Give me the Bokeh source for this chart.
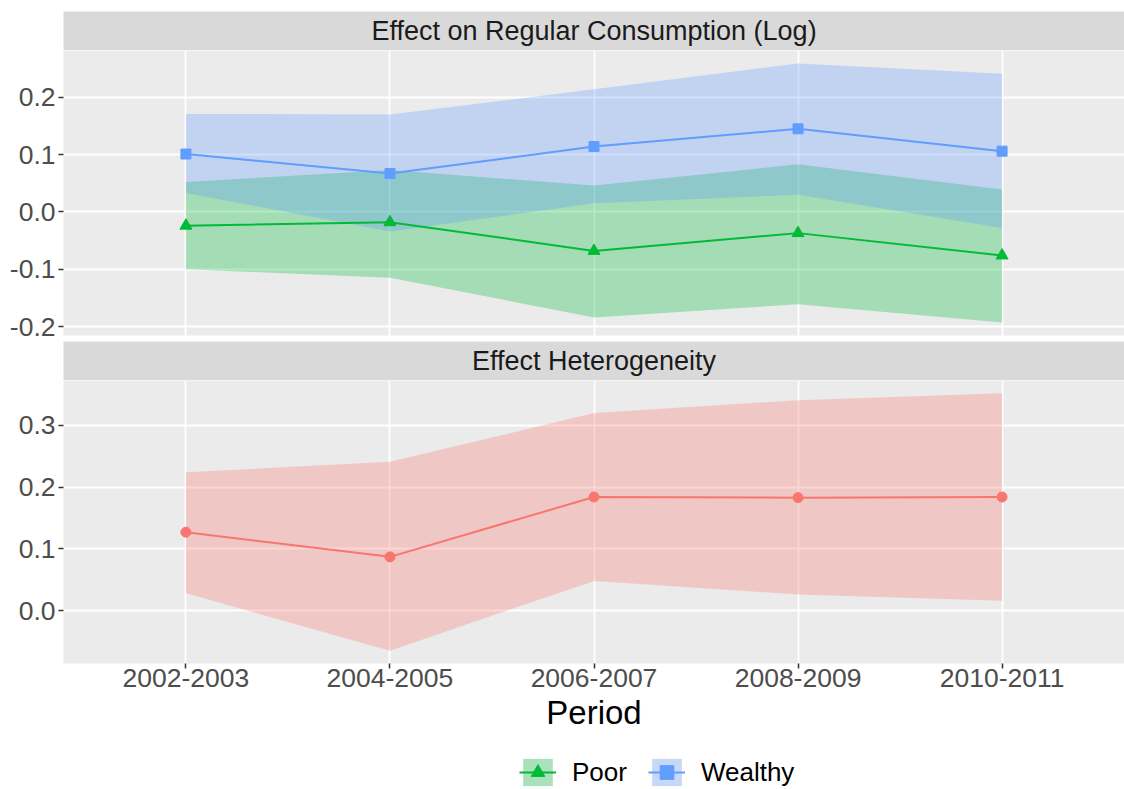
from bokeh.plotting import figure
from bokeh.models import (Range1d, SingleIntervalTicker, FixedTicker,
                          NumeralTickFormatter, Legend, LegendItem)
from bokeh.layouts import column
from bokeh.embed import file_html
from bokeh.resources import INLINE
from bokeh.core.properties import value

# ---- data -------------------------------------------------------------
periods = ["2002-2003", "2004-2005", "2006-2007", "2008-2009", "2010-2011"]

poor_est = [-0.024, -0.018, -0.068, -0.037, -0.076]
poor_lo = [-0.100, -0.115, -0.184, -0.161, -0.193]
poor_hi = [0.052, 0.073, 0.046, 0.083, 0.039]

wealthy_est = [0.101, 0.067, 0.114, 0.145, 0.106]
wealthy_lo = [0.033, -0.034, 0.015, 0.030, -0.028]
wealthy_hi = [0.171, 0.170, 0.214, 0.259, 0.241]

het_est = [0.127, 0.087, 0.184, 0.183, 0.184]
het_lo = [0.028, -0.065, 0.048, 0.026, 0.016]
het_hi = [0.224, 0.241, 0.320, 0.341, 0.352]

panel_titles = ["Effect on Regular Consumption (Log)", "Effect Heterogeneity"]
group_names = ["Poor", "Wealthy"]

# ---- style ------------------------------------------------------------
FONT = "Liberation Sans"
PANEL_BG = "#EBEBEB"
STRIP_BG = "#D9D9D9"
KEY_BG = "#F2F2F2"
GREEN = "#00BA38"
BLUE = "#619CFF"
RED = "#F8766D"
RIBBON_ALPHA = 0.3
W = 1124
LEFT = 63


def blend(fg, bg, alpha):
    f = [int(fg[i:i + 2], 16) for i in (1, 3, 5)]
    b = [int(bg[i:i + 2], 16) for i in (1, 3, 5)]
    return "#" + "".join("%02X" % round(alpha * a + (1 - alpha) * c) for a, c in zip(f, b))


x_idx = list(range(1, len(periods) + 1))
# discrete axis expansion of 0.6 on both sides
x_range = Range1d(0.4, len(periods) + 0.6)


def padded(vals, frac=0.05):
    lo, hi = min(vals), max(vals)
    pad = (hi - lo) * frac
    return Range1d(lo - pad, hi + pad)


def strip(text, top):
    s = figure(width=W, height=39 + top, x_range=x_range, y_range=Range1d(0, 1),
               x_axis_type=None, y_axis_type=None, toolbar_location=None,
               output_backend="svg", min_border_left=LEFT, min_border_right=0,
               min_border_top=top, min_border_bottom=0,
               background_fill_color=STRIP_BG, border_fill_color="white",
               outline_line_color=None)
    s.text(x=[(x_range.start + x_range.end) / 2], y=[0.5], text=[text],
           text_align="center", text_baseline="middle",
           text_font=value(FONT), text_font_size="27px", text_color="#1A1A1A")
    return s


def panel(height, yr, bottom, show_x):
    p = figure(width=W, height=height, x_range=x_range, y_range=yr,
               toolbar_location=None, output_backend="svg",
               min_border_left=LEFT, min_border_right=0, min_border_top=0,
               min_border_bottom=bottom, background_fill_color=PANEL_BG,
               border_fill_color="white", outline_line_color=None)
    p.yaxis.ticker = SingleIntervalTicker(interval=0.1, num_minor_ticks=0)
    p.yaxis.formatter = NumeralTickFormatter(format="0.0")
    p.xaxis.ticker = FixedTicker(ticks=x_idx)
    p.xgrid.ticker = FixedTicker(ticks=x_idx)
    p.ygrid.ticker = SingleIntervalTicker(interval=0.1, num_minor_ticks=0)
    p.xaxis.major_label_overrides = {i: lab for i, lab in zip(x_idx, periods)}
    for ax in (p.xaxis[0], p.yaxis[0]):
        ax.axis_line_color = None
        ax.major_tick_out = 5
        ax.major_tick_in = 0
        ax.minor_tick_line_color = None
        ax.major_tick_line_color = "#333333"
        ax.major_tick_line_width = 1.5
        ax.major_label_text_font = FONT
        ax.major_label_text_font_size = "26.5px"
        ax.major_label_text_color = "#4D4D4D"
    p.yaxis.major_label_standoff = 3
    p.xaxis.major_label_standoff = 0
    p.grid.grid_line_color = "white"
    p.grid.grid_line_width = 1.8
    if show_x:
        p.xaxis.axis_label = "Period"
        p.xaxis.axis_label_text_font = FONT
        p.xaxis.axis_label_text_font_size = "33px"
        p.xaxis.axis_label_text_font_style = "normal"
        p.xaxis.axis_label_text_color = "black"
        p.xaxis.axis_label_standoff = 4
    else:
        p.xaxis.visible = False
    return p


# ---- top panel: Poor / Wealthy ---------------------------------------
groups = [
    (poor_est, poor_lo, poor_hi, GREEN, "triangle", 12),
    (wealthy_est, wealthy_lo, wealthy_hi, BLUE, "square", 10),
]
top_range = padded(poor_lo + poor_hi + wealthy_lo + wealthy_hi + poor_est + wealthy_est)
p1 = panel(291, top_range, 6, False)
for est, lo, hi, col, mk, sz in groups:
    p1.varea(x=x_idx, y1=lo, y2=hi, fill_color=col, fill_alpha=RIBBON_ALPHA)
for est, lo, hi, col, mk, sz in groups:
    p1.line(x=x_idx, y=est, line_color=col, line_width=2)
for est, lo, hi, col, mk, sz in groups:
    p1.scatter(x=x_idx, y=est, marker=mk, size=sz, fill_color=col, line_color=col)

# ---- bottom panel: heterogeneity --------------------------------------
p2 = panel(355, padded(het_lo + het_hi + het_est), 72, True)
p2.varea(x=x_idx, y1=het_lo, y2=het_hi, fill_color=RED, fill_alpha=RIBBON_ALPHA)
p2.line(x=x_idx, y=het_est, line_color=RED, line_width=2)
p2.scatter(x=x_idx, y=het_est, marker="circle", size=10, fill_color=RED, line_color=RED)

# ---- legend (key glyphs only; NaN data draws nothing in the frame) ------
nan = float("nan")
lg = figure(width=W, height=54, x_range=Range1d(0, 1), y_range=Range1d(0, 1),
            x_axis_type=None, y_axis_type=None, toolbar_location=None,
            output_backend="svg", min_border_left=LEFT, min_border_right=0,
            min_border_top=0, min_border_bottom=0, outline_line_color=None,
            background_fill_color="white", border_fill_color="white")
items = []
for name, (est, lo, hi, col, mk, sz) in zip(group_names, groups):
    r1 = lg.varea(x=[nan], y1=[nan], y2=[nan], fill_color=blend(col, KEY_BG, RIBBON_ALPHA))
    r2 = lg.line(x=[nan], y=[nan], line_color=col, line_width=2)
    r3 = lg.scatter(x=[nan], y=[nan], marker=mk, size=sz, fill_color=col, line_color=col)
    items.append(LegendItem(label=value(name), renderers=[r1, r2, r3]))
legend = Legend(items=items, location=(456, 0), orientation="horizontal",
                glyph_width=37, glyph_height=34, label_standoff=16, spacing=21,
                padding=0, margin=0, border_line_color=None,
                background_fill_alpha=0, label_text_font=FONT,
                label_text_font_size="26px", label_text_color="black")
lg.add_layout(legend)

layout = column(strip(panel_titles[0], 11), p1, strip(panel_titles[1], 0), p2, lg,
                spacing=0)

with open("out.html", "w") as f:
    f.write(file_html(layout, INLINE))
